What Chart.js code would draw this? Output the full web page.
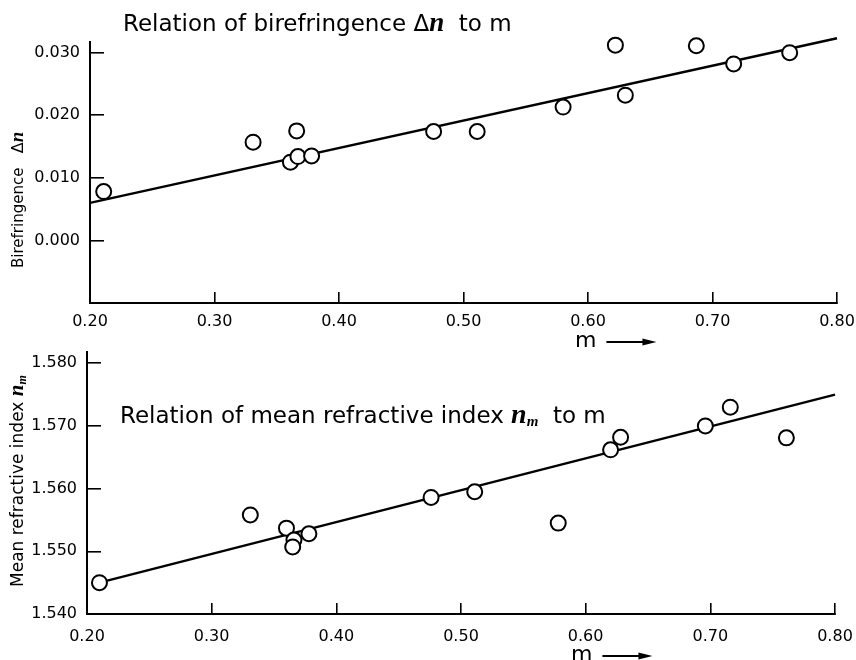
<!DOCTYPE html>
<html>
<head>
<meta charset="utf-8">
<script src="https://cdn.jsdelivr.net/npm/chart.js@4.4.0/dist/chart.umd.min.js"></script>
<style>
  body { margin: 0; background: #fff; }
  #wrap { position: relative; width: 856px; height: 660px; }
  canvas { position: absolute; left: 0; }
</style>
</head>
<body>
<div id="wrap">
  <canvas id="dnChart" width="856" height="356" style="top:0"></canvas>
  <canvas id="nmChart" width="856" height="324" style="top:336px"></canvas>
</div>
<script>
// birefringence panel
const mDn = [0.211, 0.331, 0.361, 0.366, 0.367, 0.378, 0.476, 0.511, 0.580, 0.622, 0.630, 0.687, 0.717, 0.762];
const dn  = [0.0078, 0.0157, 0.0125, 0.0175, 0.0134, 0.0135, 0.0174, 0.0174, 0.0213, 0.0312, 0.0232, 0.0311, 0.0282, 0.0300];
const dnFitM = [0.20, 0.80];
const dnFit  = [0.0060, 0.0323];
const dnTicks = [0.000, 0.010, 0.020, 0.030];

// mean refractive index panel
const mNm = [0.210, 0.331, 0.360, 0.366, 0.365, 0.378, 0.476, 0.511, 0.578, 0.620, 0.628, 0.696, 0.716, 0.761];
const nm  = [1.5450, 1.5558, 1.5537, 1.5518, 1.5507, 1.5528, 1.5586, 1.5595, 1.5545, 1.5662, 1.5682, 1.5700, 1.5730, 1.5681];
const nmFitM = [0.21, 0.80];
const nmFit  = [1.5450, 1.5750];
const nmTicks = [1.540, 1.550, 1.560, 1.570, 1.580];

const mTicks = [0.20, 0.30, 0.40, 0.50, 0.60, 0.70, 0.80];

const SANS = '"DejaVu Sans", sans-serif';
const SERIF = '"Liberation Serif", serif';

function drawRuns(ctx, x, y, runs) {
  for (const r of runs) {
    ctx.font = r.font;
    ctx.fillText(r.text, x, y + (r.dy || 0));
    x += ctx.measureText(r.text).width;
  }
  return x;
}

const textPlugin = {
  id: 'texts',
  afterDraw(chart, args, o) {
    const ctx = chart.ctx, a = chart.chartArea;
    ctx.save();
    ctx.fillStyle = '#000';
    ctx.strokeStyle = '#000';
    ctx.textBaseline = 'alphabetic';
    ctx.textAlign = 'left';
    drawRuns(ctx, a.left + o.titleDx, a.top + o.titleDy, o.title);

    ctx.save();
    ctx.translate(o.yTitleX, a.bottom + o.yTitleDy);
    ctx.rotate(-Math.PI / 2);
    drawRuns(ctx, 0, 0, o.yTitle);
    ctx.restore();

    // "m  ->" axis name
    const bx = o.mX, by = a.bottom + o.mDy;
    const end = drawRuns(ctx, bx, by, [{ text: 'm', font: '22px ' + SANS }]);
    ctx.lineWidth = 1.8;
    ctx.beginPath();
    ctx.moveTo(end + 10, by - 5);
    ctx.lineTo(end + 50, by - 5);
    ctx.stroke();
    ctx.beginPath();
    ctx.moveTo(end + 60, by - 5);
    ctx.lineTo(end + 46, by - 8.5);
    ctx.lineTo(end + 46, by - 1.5);
    ctx.closePath();
    ctx.fill();
    ctx.restore();
  }
};

function axisX(h, pad) {
  return {
    type: 'linear', min: 0.2, max: 0.8,
    afterBuildTicks: s => { s.ticks = mTicks.map(v => ({ value: v })); },
    afterFit: s => { s.height = h; s.paddingLeft = 0; s.paddingRight = 0; },
    ticks: {
      color: '#000', font: { family: SANS, size: 16 }, padding: pad,
      maxRotation: 0, autoSkip: false,
      callback: v => v.toFixed(2)
    },
    grid: { drawOnChartArea: false, color: '#000', lineWidth: 1.6, tickLength: -11 },
    border: { display: true, color: '#000', width: 2 }
  };
}

function axisY(min, max, ticks, w) {
  return {
    type: 'linear', min: min, max: max,
    afterBuildTicks: s => { s.ticks = ticks.map(v => ({ value: v })); },
    afterFit: s => { s.width = w; s.paddingTop = 0; s.paddingBottom = 0; },
    ticks: {
      color: '#000', font: { family: SANS, size: 16 }, padding: 24,
      callback: v => v.toFixed(3)
    },
    grid: { drawOnChartArea: false, color: '#000', lineWidth: 1.6, tickLength: -14 },
    border: { display: true, color: '#000', width: 2 }
  };
}

function makeChart(id, xs, ys, fitX, fitY, yAxis, xAxis, pad, texts) {
  return new Chart(document.getElementById(id), {
    type: 'scatter',
    data: {
      datasets: [
        {
          data: xs.map((x, i) => ({ x: x, y: ys[i] })),
          pointRadius: 7.5, pointHoverRadius: 7.5,
          pointBackgroundColor: '#fff', pointBorderColor: '#000', pointBorderWidth: 2,
          clip: false, order: 1
        },
        {
          type: 'line',
          data: fitX.map((x, i) => ({ x: x, y: fitY[i] })),
          borderColor: '#000', borderWidth: 2.4, pointRadius: 0,
          clip: false, order: 2
        }
      ]
    },
    options: {
      responsive: false,
      animation: false,
      layout: { padding: pad },
      plugins: { legend: { display: false }, tooltip: { enabled: false }, texts: texts },
      scales: { x: xAxis, y: yAxis }
    },
    plugins: [textPlugin]
  });
}

makeChart('dnChart', mDn, dn, dnFitM, dnFit,
  axisY(-0.010, 0.0317, dnTicks, 90), axisX(53, 20),
  { top: 42, right: 19, left: 0, bottom: 0 },
  {
    titleDx: 33, titleDy: -11,
    title: [
      { text: 'Relation of birefringence ', font: '23px ' + SANS },
      { text: 'Δ', font: '23px ' + SANS },
      { text: 'n', font: 'bold italic 27px ' + SERIF },
      { text: '  to m', font: '23px ' + SANS }
    ],
    yTitleX: 23, yTitleDy: -35,
    yTitle: [
      { text: 'Birefringence   ', font: '15px ' + SANS },
      { text: 'Δ', font: '16px ' + SANS },
      { text: 'n', font: 'bold italic 19px ' + SERIF }
    ],
    mX: 575, mDy: 44
  });

makeChart('nmChart', mNm, nm, nmFitM, nmFit,
  axisY(1.540, 1.5818, nmTicks, 87), axisX(46, 24),
  { top: 16, right: 21, left: 0, bottom: 0 },
  {
    titleDx: 33, titleDy: 71,
    title: [
      { text: 'Relation of mean refractive index ', font: '23px ' + SANS },
      { text: 'n', font: 'bold italic 28px ' + SERIF },
      { text: 'm', font: 'bold italic 15px ' + SERIF, dy: 3 },
      { text: '  to m', font: '23px ' + SANS }
    ],
    yTitleX: 23, yTitleDy: -27,
    yTitle: [
      { text: 'Mean refractive index ', font: '17px ' + SANS },
      { text: 'n', font: 'bold italic 21px ' + SERIF },
      { text: 'm', font: 'bold italic 12px ' + SERIF, dy: 3 }
    ],
    mX: 571, mDy: 47
  });
</script>
</body>
</html>
